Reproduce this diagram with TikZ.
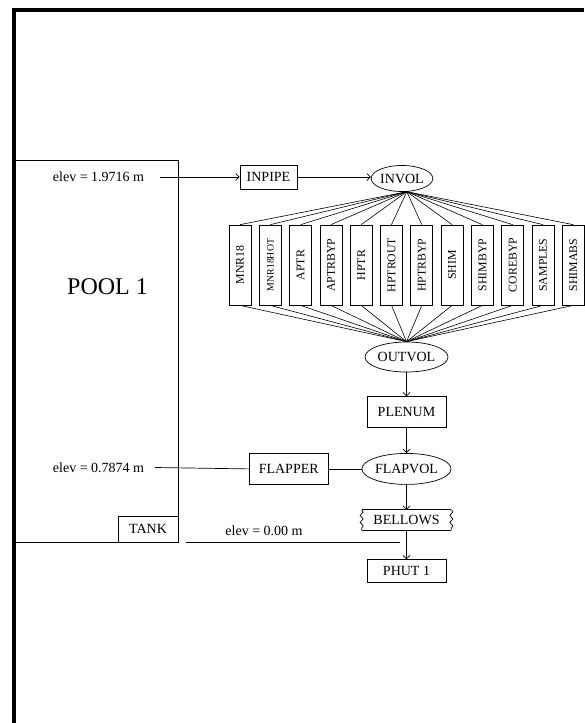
\documentclass[tikz,border=0pt]{standalone}
\usepackage{fontspec}
\setmainfont{Liberation Serif}
\usetikzlibrary{positioning}
\usetikzlibrary{arrows.meta}
\usetikzlibrary{shapes.geometric}
\usetikzlibrary{decorations.pathmorphing}

\begin{document}
\begin{tikzpicture}[
    x=1pt, y=-1pt,
    line width=0.7pt,
    comp/.style={rectangle, draw, minimum width=79pt, minimum height=31pt, inner sep=0pt, font=\fontsize{14}{16}\selectfont},
    vol/.style={ellipse, draw, minimum width=83pt, minimum height=30pt, inner sep=0pt, font=\fontsize{14}{16}\selectfont},
    chan/.style={rectangle, draw, minimum width=22pt, minimum height=80pt, inner sep=0pt},
    elev/.style={font=\fontsize{14}{16}\selectfont, inner sep=0pt},
    arrow/.style={-{Straight Barb[length=3.5pt, width=7pt]}},
    fan/.style={line width=0.6pt}
]
\useasboundingbox (0,0) rectangle (584,723);

% Frame
\draw[line width=4pt] (13.5,723) -- (13.5,10) -- (584,10);

% Pool
\node[draw, minimum width=164pt, minimum height=382pt, inner sep=0pt] (pool) at (96,351) {};
\node[font=\fontsize{24}{26}\selectfont] (pooltxt) at (107.5,287) {POOL 1};
\node[comp, minimum width=60pt, minimum height=26pt, anchor=south east] (tank) at (pool.south east) {TANK};

% Elevations
\node[elev] (elev1) at (98.5,177) {elev = 1.9716 m};
\node[elev] (elev2) at (98.5,467.5) {elev = 0.7874 m};
\node[elev] (elev3) at (264,531) {elev = 0.00 m};
\coordinate (e1) at (160,177);
\coordinate (e2) at (155,467.5);
\coordinate (e3) at (186,542);
\coordinate (e3end) at (400,542);

% Inlet
\node[comp, minimum width=57pt, minimum height=24pt] (inpipe) at (268.5,177) {INPIPE};
\node[vol, minimum width=53pt, minimum height=26pt] (invol) at (402,178.5) {INVOL};

% Channels
\foreach \name/\fs [count=\i from 0] in {MNR18/11.8, MNR18HOT/9.8, APTR/11.8, APTRBYP/11.8, HPTR/11.8, HPTROUT/11.8, HPTRBYP/11.8, SHIM/11.8, SHIMBYP/11.8, COREBYP/11.8, SAMPLES/11.8, SHIMABS/11.8}
  \node[chan, font=\fontsize{\fs}{\fs}\selectfont] (ch\i) at (240+30.3*\i,265) {\rotatebox{90}{\name}};

% Outlet chain
\node[vol] (outvol) at (406.5,357) {OUTVOL};
\node[comp, below=24pt of outvol] (plenum) {PLENUM};
\node[vol, minimum height=31pt, below=25pt of plenum] (flapvol) {FLAPVOL};
\node[comp, left=33pt of flapvol] (flapper) {FLAPPER};
\node[elev, minimum width=89pt, minimum height=20pt, below=25pt of flapvol] (bellows) {BELLOWS};
\node[comp, minimum height=23pt, below=29pt of bellows] (phut) {PHUT 1};

% Bellows outline
\draw (bellows.north west) -- (bellows.north east);
\draw (bellows.south west) -- (bellows.south east);
\draw[decorate, decoration={snake, amplitude=1.5pt, segment length=7pt}] (bellows.north west) -- (bellows.south west);
\draw[decorate, decoration={snake, amplitude=1.5pt, segment length=7pt}] (bellows.north east) -- (bellows.south east);

% Arrows
\draw[arrow] (e1) -- (inpipe.west);
\draw[arrow] (inpipe.east) -- (invol.west |- inpipe.east);
\foreach \i in {0,...,11} {
  \draw[fan] (invol.-70) -- (ch\i.north);
  \draw[fan] (ch\i.south) -- (outvol.north);
}
\draw[arrow] (outvol) -- (plenum);
\draw[arrow] (plenum) -- (flapvol);
\draw (e2) -- (flapper.west);
\draw (flapper) -- (flapvol);
\draw[arrow] (flapvol) -- (bellows);
\draw[arrow] (bellows) -- (phut);
\draw (e3) -- (e3end);

\end{tikzpicture}
\end{document}
